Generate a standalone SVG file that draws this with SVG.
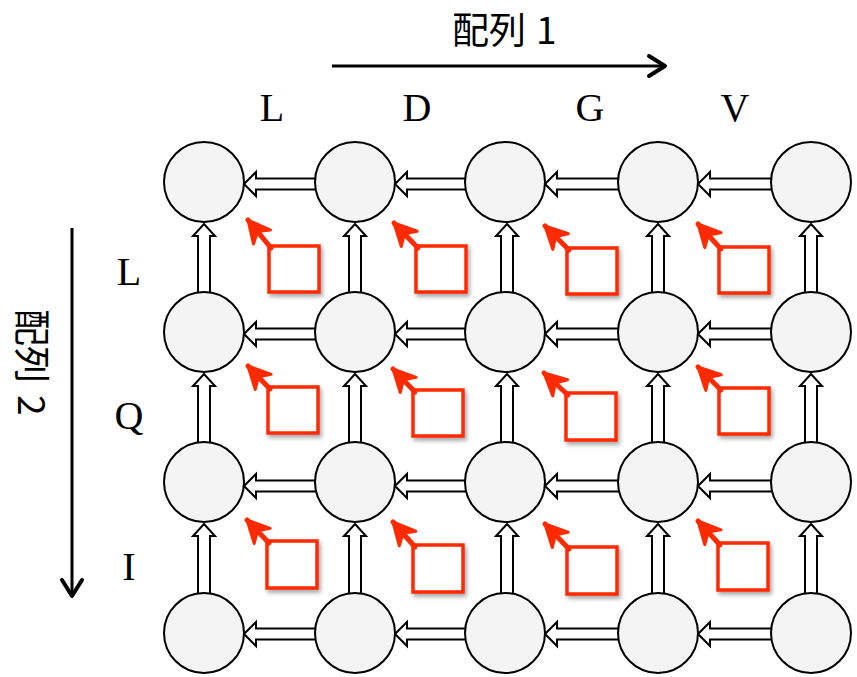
<svg xmlns="http://www.w3.org/2000/svg" width="857" height="677" viewBox="0 0 857 677">
<style>
.node{fill:#f4f4f4;stroke:#000;stroke-width:2}
.conn{fill:#fff;stroke:#000;stroke-width:2;stroke-linejoin:miter}
.axis{fill:none;stroke:#000;stroke-width:3}
.axhead{fill:none;stroke:#000;stroke-width:4;stroke-linecap:round;stroke-linejoin:round}
.jp{font-family:"Noto Sans CJK JP","Noto Sans CJK SC",sans-serif;font-size:37px;fill:#000}
.res{font-family:"Liberation Serif",serif;font-size:40px;fill:#000}
.sq{fill:#fff;stroke:#ff2a00;stroke-width:3.5}
.ra{fill:none;stroke:#ff2a00;stroke-width:5;stroke-linecap:round}
</style>
<defs>
<marker id="rh" markerUnits="userSpaceOnUse" markerWidth="30" markerHeight="30" viewBox="-24 -15 30 30" refX="0" refY="0" orient="auto">
<path d="M0,0 L-22,-11 L-15,0 L-22,11 Z" fill="#ff2a00" stroke="#ff2a00" stroke-width="3" stroke-linejoin="round"/>
</marker>
<filter id="sh" x="-20%" y="-20%" width="150%" height="150%">
<feDropShadow dx="2" dy="3" stdDeviation="2" flood-color="#000" flood-opacity="0.35"/>
</filter>
</defs>

<g id="axis1">
<text class="jp" x="452" y="44">配列<tspan dx="10">1</tspan></text>
<line class="axis" x1="332" y1="66" x2="664" y2="66"/>
<polyline class="axhead" points="649,56 665,66 649,76"/>
</g>
<g id="axis2">
<text class="jp" transform="translate(18,309) rotate(90)" x="0" y="0">配列<tspan dx="12">2</tspan></text>
<line class="axis" x1="72" y1="228" x2="72" y2="595"/>
<polyline class="axhead" points="62,580 72,596 82,580"/>
</g>

<g id="seq1">
<text class="res" x="272" y="121" text-anchor="middle">L</text>
<text class="res" x="417" y="121" text-anchor="middle">D</text>
<text class="res" x="590" y="121" text-anchor="middle">G</text>
<text class="res" x="735" y="121" text-anchor="middle">V</text>
</g>
<g id="seq2">
<text class="res" x="129" y="285" text-anchor="middle">L</text>
<text class="res" x="129" y="429" text-anchor="middle">Q</text>
<text class="res" x="129" y="580" text-anchor="middle">I</text>
</g>

<g id="connectors">
<path class="conn" d="M244,184 L256,172 L256,178.5 L316,178.5 L316,189.5 L256,189.5 L256,196 Z"/>
<path class="conn" d="M395,184 L407,172 L407,178.5 L466,178.5 L466,189.5 L407,189.5 L407,196 Z"/>
<path class="conn" d="M545,184 L557,172 L557,178.5 L619,178.5 L619,189.5 L557,189.5 L557,196 Z"/>
<path class="conn" d="M698,184 L710,172 L710,178.5 L772,178.5 L772,189.5 L710,189.5 L710,196 Z"/>
<path class="conn" d="M244,334 L256,322 L256,328.5 L316,328.5 L316,339.5 L256,339.5 L256,346 Z"/>
<path class="conn" d="M395,334 L407,322 L407,328.5 L466,328.5 L466,339.5 L407,339.5 L407,346 Z"/>
<path class="conn" d="M545,334 L557,322 L557,328.5 L619,328.5 L619,339.5 L557,339.5 L557,346 Z"/>
<path class="conn" d="M698,334 L710,322 L710,328.5 L772,328.5 L772,339.5 L710,339.5 L710,346 Z"/>
<path class="conn" d="M244,486 L256,474 L256,480.5 L316,480.5 L316,491.5 L256,491.5 L256,498 Z"/>
<path class="conn" d="M395,486 L407,474 L407,480.5 L466,480.5 L466,491.5 L407,491.5 L407,498 Z"/>
<path class="conn" d="M545,486 L557,474 L557,480.5 L619,480.5 L619,491.5 L557,491.5 L557,498 Z"/>
<path class="conn" d="M698,486 L710,474 L710,480.5 L772,480.5 L772,491.5 L710,491.5 L710,498 Z"/>
<path class="conn" d="M244,634 L256,622 L256,628.5 L316,628.5 L316,639.5 L256,639.5 L256,646 Z"/>
<path class="conn" d="M395,634 L407,622 L407,628.5 L466,628.5 L466,639.5 L407,639.5 L407,646 Z"/>
<path class="conn" d="M545,634 L557,622 L557,628.5 L619,628.5 L619,639.5 L557,639.5 L557,646 Z"/>
<path class="conn" d="M698,634 L710,622 L710,628.5 L772,628.5 L772,639.5 L710,639.5 L710,646 Z"/>
<path class="conn" d="M204,224 L215,236 L210,236 L210,293 L198,293 L198,236 L193,236 Z"/>
<path class="conn" d="M355,224 L366,236 L361,236 L361,293 L349,293 L349,236 L344,236 Z"/>
<path class="conn" d="M507,224 L518,236 L513,236 L513,293 L501,293 L501,236 L496,236 Z"/>
<path class="conn" d="M658,224 L669,236 L664,236 L664,293 L652,293 L652,236 L647,236 Z"/>
<path class="conn" d="M811,224 L822,236 L817,236 L817,293 L805,293 L805,236 L800,236 Z"/>
<path class="conn" d="M204,374 L215,386 L210,386 L210,443 L198,443 L198,386 L193,386 Z"/>
<path class="conn" d="M355,374 L366,386 L361,386 L361,443 L349,443 L349,386 L344,386 Z"/>
<path class="conn" d="M507,374 L518,386 L513,386 L513,443 L501,443 L501,386 L496,386 Z"/>
<path class="conn" d="M658,374 L669,386 L664,386 L664,443 L652,443 L652,386 L647,386 Z"/>
<path class="conn" d="M811,374 L822,386 L817,386 L817,443 L805,443 L805,386 L800,386 Z"/>
<path class="conn" d="M204,524 L215,536 L210,536 L210,594 L198,594 L198,536 L193,536 Z"/>
<path class="conn" d="M355,524 L366,536 L361,536 L361,594 L349,594 L349,536 L344,536 Z"/>
<path class="conn" d="M507,524 L518,536 L513,536 L513,594 L501,594 L501,536 L496,536 Z"/>
<path class="conn" d="M658,524 L669,536 L664,536 L664,594 L652,594 L652,536 L647,536 Z"/>
<path class="conn" d="M811,524 L822,536 L817,536 L817,594 L805,594 L805,536 L800,536 Z"/>
</g>

<g id="nodes">
<g id="n00"><circle class="node" cx="204" cy="182" r="40"/></g>
<g id="n01"><circle class="node" cx="355" cy="182" r="40"/></g>
<g id="n02"><circle class="node" cx="505" cy="182" r="40"/></g>
<g id="n03"><circle class="node" cx="658" cy="182" r="40"/></g>
<g id="n04"><circle class="node" cx="811" cy="182" r="40"/></g>
<g id="n10"><circle class="node" cx="204" cy="332" r="40"/></g>
<g id="n11"><circle class="node" cx="355" cy="332" r="40"/></g>
<g id="n12"><circle class="node" cx="505" cy="332" r="40"/></g>
<g id="n13"><circle class="node" cx="658" cy="332" r="40"/></g>
<g id="n14"><circle class="node" cx="811" cy="332" r="40"/></g>
<g id="n20"><circle class="node" cx="204" cy="482" r="40"/></g>
<g id="n21"><circle class="node" cx="355" cy="482" r="40"/></g>
<g id="n22"><circle class="node" cx="505" cy="482" r="40"/></g>
<g id="n23"><circle class="node" cx="658" cy="482" r="40"/></g>
<g id="n24"><circle class="node" cx="811" cy="482" r="40"/></g>
<g id="n30"><circle class="node" cx="204" cy="633" r="40"/></g>
<g id="n31"><circle class="node" cx="355" cy="633" r="40"/></g>
<g id="n32"><circle class="node" cx="505" cy="633" r="40"/></g>
<g id="n33"><circle class="node" cx="658" cy="633" r="40"/></g>
<g id="n34"><circle class="node" cx="811" cy="633" r="40"/></g>
</g>

<g id="cells">
<g id="c00"><rect class="sq" x="269" y="246" width="50" height="46" filter="url(#sh)"/><line class="ra" x1="271" y1="248" x2="248" y2="220" marker-end="url(#rh)"/></g>
<g id="c01"><rect class="sq" x="416" y="246" width="50" height="46" filter="url(#sh)"/><line class="ra" x1="418" y1="248" x2="394" y2="223" marker-end="url(#rh)"/></g>
<g id="c02"><rect class="sq" x="567" y="248" width="50" height="46" filter="url(#sh)"/><line class="ra" x1="569" y1="250" x2="545" y2="226" marker-end="url(#rh)"/></g>
<g id="c03"><rect class="sq" x="719" y="247" width="50" height="46" filter="url(#sh)"/><line class="ra" x1="721" y1="249" x2="698" y2="224" marker-end="url(#rh)"/></g>
<g id="c10"><rect class="sq" x="268" y="387" width="50" height="46" filter="url(#sh)"/><line class="ra" x1="270" y1="389" x2="248" y2="366" marker-end="url(#rh)"/></g>
<g id="c11"><rect class="sq" x="413" y="390" width="50" height="46" filter="url(#sh)"/><line class="ra" x1="415" y1="392" x2="393" y2="369" marker-end="url(#rh)"/></g>
<g id="c12"><rect class="sq" x="566" y="393" width="50" height="47" filter="url(#sh)"/><line class="ra" x1="568" y1="395" x2="544" y2="373" marker-end="url(#rh)"/></g>
<g id="c13"><rect class="sq" x="719" y="388" width="50" height="46" filter="url(#sh)"/><line class="ra" x1="721" y1="390" x2="698" y2="367" marker-end="url(#rh)"/></g>
<g id="c20"><rect class="sq" x="267" y="541" width="50" height="47" filter="url(#sh)"/><line class="ra" x1="269" y1="543" x2="247" y2="520" marker-end="url(#rh)"/></g>
<g id="c21"><rect class="sq" x="413" y="545" width="50" height="47" filter="url(#sh)"/><line class="ra" x1="415" y1="547" x2="393" y2="522" marker-end="url(#rh)"/></g>
<g id="c22"><rect class="sq" x="567" y="547" width="50" height="47" filter="url(#sh)"/><line class="ra" x1="569" y1="549" x2="545" y2="524" marker-end="url(#rh)"/></g>
<g id="c23"><rect class="sq" x="718" y="543" width="50" height="47" filter="url(#sh)"/><line class="ra" x1="720" y1="545" x2="698" y2="521" marker-end="url(#rh)"/></g>
</g>
</svg>
